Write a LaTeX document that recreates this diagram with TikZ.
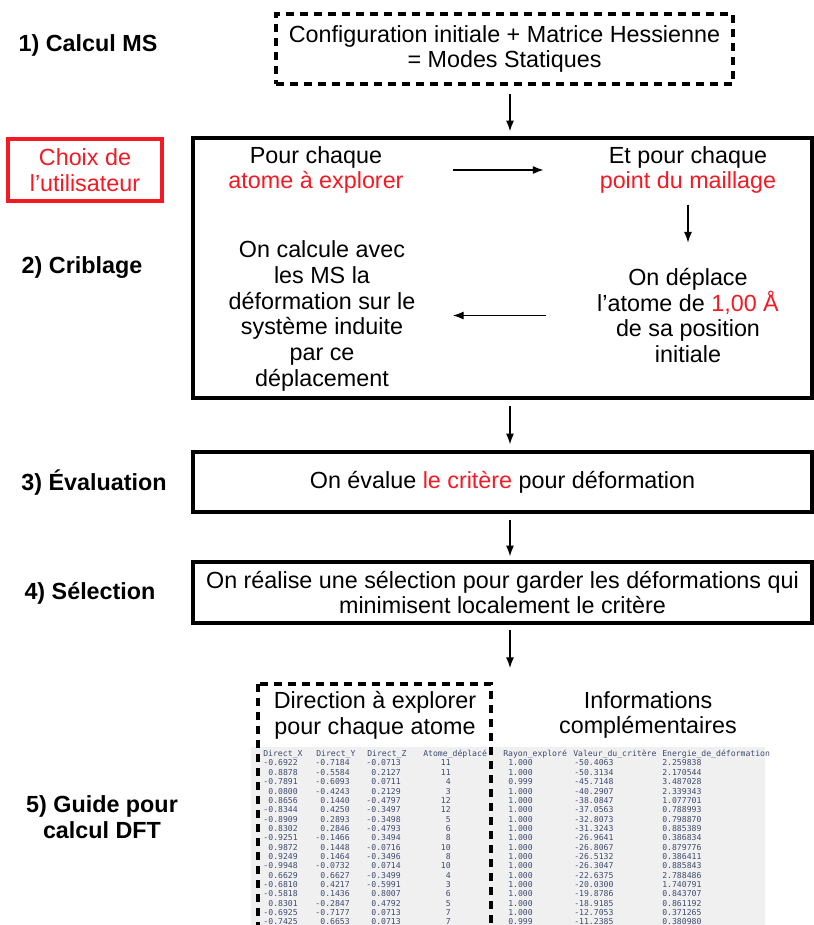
\documentclass[tikz,border=0pt]{standalone}
\usepackage{fontspec}
\usetikzlibrary{arrows.meta}
\setmainfont{Liberation Sans}
\newfontfamily\tabfamily{DejaVu Sans Mono}
\definecolor{hl}{RGB}{245,25,35}
\definecolor{tabcol}{RGB}{62,74,112}
\definecolor{tabbg}{RGB}{240,240,240}
\newcommand{\mainsz}{\fontsize{17.5}{19.3}\selectfont}
\newcommand{\tabsz}{\tabfamily\fontsize{6.1}{7}\selectfont}
\newcommand{\rouge}[1]{\textcolor{hl}{#1}}

\begin{document}
\begin{tikzpicture}[x=0.75pt,y=0.75pt,yscale=-1,
  lbl/.style={font=\mainsz\bfseries, align=center, inner sep=0pt},
  txt/.style={font=\mainsz, align=center, inner sep=0pt},
  stepbox/.style={draw, line width=2.6pt},
  dashbox/.style={draw, line width=2.6pt, dash pattern=on 6pt off 4.5pt},
  arr/.style={-{Latex[length=8pt,width=6pt]}, line width=0.9pt},
  tab/.style={font=\tabsz, text=tabcol, inner sep=0pt}]
\useasboundingbox (0,0) rectangle (814,925);

% step labels
\node[lbl] (s1) at (88,45) {1) Calcul MS};
\node[lbl] (s2) at (82,268) {2) Criblage};
\node[lbl] (s3) at (94,483) {3) Évaluation};
\node[lbl] (s4) at (90,593) {4) Sélection};
\node[lbl] (s5) at (102,817.5) {5) Guide pour\\calcul DFT};
\node[txt, draw=hl, text=hl, line width=2.6pt, minimum width=115.5pt, minimum height=46.5pt] (choix) at (85,170) {Choix de\\l’utilisateur};

% 1) static modes
\node[txt, dashbox, minimum width=342.75pt, minimum height=52.5pt] (ms) at (504.5,49) {Configuration initiale + Matrice Hessienne\\= Modes Statiques};

% 2) screening
\node[stepbox, minimum width=464.25pt, minimum height=195pt] (crib) at (502.5,268) {};
\node[txt] (pour) at (316,170) {Pour chaque\\\rouge{atome à explorer}};
\node[txt] (point) at (688,170) {Et pour chaque\\\rouge{point du maillage}};
\node[txt] (depl) at (688,315.5) {On déplace\\l’atome de \rouge{1,00 Å}\\de sa position\\initiale};
\node[txt] (defo) at (322,316) {On calcule avec\\les MS la\\déformation sur le\\système induite\\par ce\\déplacement};
\draw[arr, shorten <=37pt, shorten >=42pt] (pour.east) -- (pour.east -| point.west);
\draw[arr, shorten <=8pt, shorten >=19pt] (point.south) -- (depl.north);
\draw[arr, shorten <=38pt, shorten >=28pt] (depl.west) -- (depl.west -| defo.east);

% 3) and 4)
\node[txt, stepbox, minimum width=464.25pt, minimum height=45pt] (eval) at (502.5,482) {On évalue \rouge{le critère} pour déformation};
\node[txt, stepbox, minimum width=464.25pt, minimum height=45.75pt] (sel) at (502.5,592.5) {On réalise une sélection pour garder les déformations qui\\minimisent localement le critère};

% main arrows
\coordinate (spine) at (510,0);
\coordinate (guide) at (510,668);
\draw[arr, shorten <=6pt, shorten >=3.75pt] (ms.south -| spine) -- (crib.north -| spine);
\draw[arr, shorten <=5pt, shorten >=4.5pt] (crib.south -| spine) -- (eval.north -| spine);
\draw[arr, shorten <=4.5pt, shorten >=3pt] (eval.south -| spine) -- (sel.north -| spine);
\draw[arr, shorten <=3.75pt] (sel.south -| spine) -- (guide);

% 5) output table
\fill[tabbg] (251,747) rectangle (765,925);
\node[tab, anchor=west] (hx) at (263,754) {Direct\_X};
\node[tab, anchor=west] (hy) at (316,754) {Direct\_Y};
\node[tab, anchor=west] (hz) at (367,754) {Direct\_Z};
\node[tab, anchor=west] (ha) at (423,754) {Atome\_déplacé};
\node[tab, anchor=west] (hr) at (503,754) {Rayon\_exploré};
\node[tab, anchor=west] (hv) at (573,754) {Valeur\_du\_critère};
\node[tab, anchor=west] (he) at (662,754) {Energie\_de\_déformation};
\foreach \dx/\dy/\dz/\at/\ry/\vc/\en [count=\i] in {
  -0.6922/-0.7184/-0.0713/11/1.000/-50.4063/2.259838,
  0.8878/-0.5584/0.2127/11/1.000/-50.3134/2.170544,
  -0.7891/-0.6093/0.0711/4/0.999/-45.7148/3.487028,
  0.0800/-0.4243/0.2129/3/1.000/-40.2907/2.339343,
  0.8656/0.1440/-0.4797/12/1.000/-38.0847/1.077701,
  -0.8344/0.4250/-0.3497/12/1.000/-37.0563/0.788993,
  -0.8909/0.2893/-0.3498/5/1.000/-32.8073/0.798870,
  0.8302/0.2846/-0.4793/6/1.000/-31.3243/0.885389,
  -0.9251/-0.1466/0.3494/8/1.000/-26.9641/0.386834,
  0.9872/0.1448/-0.0716/10/1.000/-26.8067/0.879776,
  0.9249/0.1464/-0.3496/8/1.000/-26.5132/0.386411,
  -0.9948/-0.0732/0.0714/10/1.000/-26.3047/0.885843,
  0.6629/0.6627/-0.3499/4/1.000/-22.6375/2.788486,
  -0.6810/0.4217/-0.5991/3/1.000/-20.0300/1.740791,
  -0.5818/0.1436/0.8007/6/1.000/-19.8786/0.843707,
  0.8301/-0.2847/0.4792/5/1.000/-18.9185/0.861192,
  -0.6925/-0.7177/0.0713/7/1.000/-12.7053/0.371265,
  -0.7425/0.6653/0.0713/7/0.999/-11.2385/0.380980}{
  \pgfmathsetmacro{\yy}{763+(\i-1)*9.35}
  \node[tab, anchor=east] (dx\i) at (298,\yy) {\dx};
  \node[tab, anchor=east] (dy\i) at (350,\yy) {\dy};
  \node[tab, anchor=east] (dz\i) at (401,\yy) {\dz};
  \node[tab, anchor=east] (at\i) at (451,\yy) {\at};
  \node[tab, anchor=west] (ry\i) at (508,\yy) {\ry};
  \node[tab, anchor=west] (vc\i) at (574,\yy) {\vc};
  \node[tab, anchor=west] (en\i) at (662,\yy) {\en};
}
\draw[dashbox] (258,684) rectangle (491,960);
\node[txt] (dir) at (375,715) {Direction à explorer\\pour chaque atome};
\node[txt] (info) at (648,715) {Informations\\complémentaires};

\end{tikzpicture}
\end{document}
